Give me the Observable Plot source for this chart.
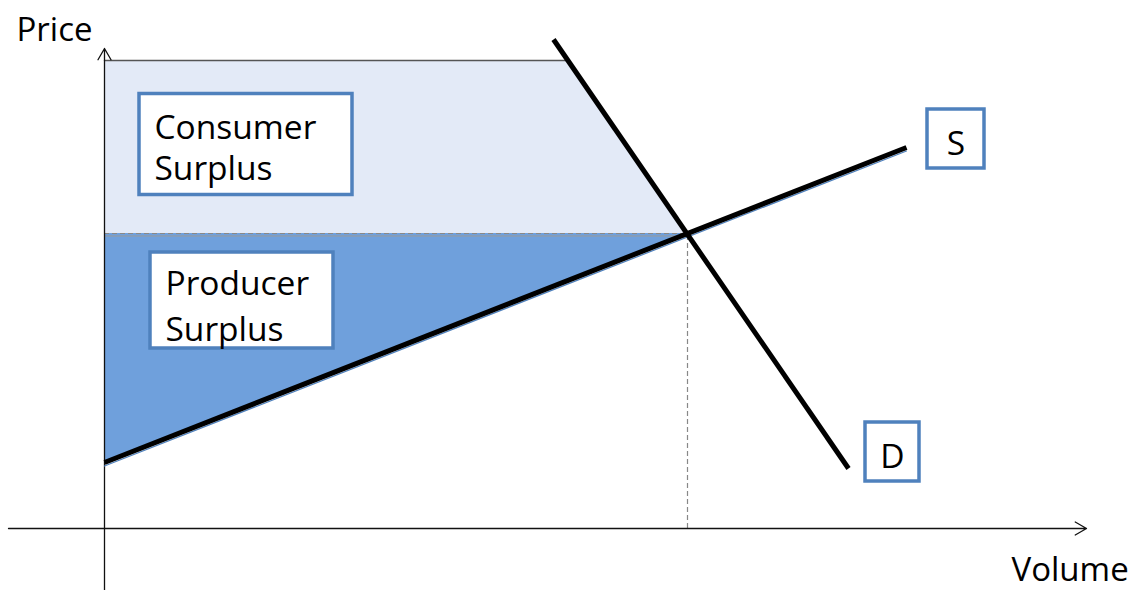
<!DOCTYPE html>
<html>
<head>
<meta charset="utf-8">
<script src="https://cdn.jsdelivr.net/npm/d3@7"></script>
<script src="https://cdn.jsdelivr.net/npm/@observablehq/plot@0.6"></script>
<style>
  html, body { margin: 0; padding: 0; background: #fff; }
  #chart svg { display: block; }
</style>
</head>
<body>
<div id="chart"></div>
<script>
// ---- Data (chart units: volume, price) ----
const supply = [
  {volume: 0, price: 6.6},
  {volume: 80.2, price: 38.1}
];
const demand = [
  {volume: 44.9, price: 48.9},
  {volume: 74.4, price: 6.0}
];
const equilibrium = {volume: 58.3, price: 29.5};
const maxPrice = 46.8;         // top of consumer surplus
const demandAtMaxPrice = 46.3; // volume where demand meets max price

const consumerSurplus = [
  {volume: 0, low: 29.5, high: 46.8},
  {volume: 46.3, low: 29.5, high: 46.8},
  {volume: 58.3, low: 29.5, high: 29.5}
];
const producerSurplus = [
  {volume: 0, low: 6.6, high: 29.5},
  {volume: 58.3, low: 29.5, high: 29.5}
];

const boxes = [
  {name: "Consumer", x1: 3.5, x2: 24.8, y1: 33.35, y2: 43.45},
  {name: "Producer", x1: 4.6, x2: 22.9, y1: 18.0, y2: 27.6},
  {name: "S", x1: 82.3, x2: 88.0, y1: 36.0, y2: 41.9},
  {name: "D", x1: 76.1, x2: 81.5, y1: 4.7, y2: 10.6}
];
const boxText = [
  {text: "Consumer", x: 5.0, y: 39.0},
  {text: "Surplus", x: 5.0, y: 34.85},
  {text: "Producer", x: 6.1, y: 23.35},
  {text: "Surplus", x: 6.1, y: 18.75}
];
const curveLabels = [
  {text: "S", x: 85.15, y: 37.4},
  {text: "D", x: 78.8, y: 6.1}
];
const axisLabels = [
  {text: "Price", x: -8.8, y: 48.8},
  {text: "Volume", x: 90.7, y: -5.2}
];
const axes = [
  {x1: 0, y1: -6.2, x2: 0, y2: 48.0},
  {x1: -9.6, y1: 0, x2: 98.2, y2: 0}
];

const FONT = "Open Sans";

const chart = Plot.plot({
  width: 1137,
  height: 590,
  margin: 0,
  x: {domain: [-10.4, 103.3], axis: null},
  y: {domain: [-6.2, 52.8], axis: null},
  style: {fontFamily: FONT, background: "white"},
  marks: [
    Plot.areaY(consumerSurplus, {x: "volume", y1: "low", y2: "high", fill: "#e3eaf7", curve: "linear"}),
    Plot.areaY(producerSurplus, {x: "volume", y1: "low", y2: "high", fill: "#6fa0dc", curve: "linear"}),
    Plot.line([{volume: 0, price: maxPrice}, {volume: demandAtMaxPrice, price: maxPrice}],
      {x: "volume", y: "price", stroke: "#555", strokeWidth: 1.5}),
    Plot.line([{volume: 0, price: equilibrium.price - 0.25}, {volume: equilibrium.volume, price: equilibrium.price - 0.25}],
      {x: "volume", y: "price", stroke: "#999", strokeWidth: 1}),
    Plot.ruleY([equilibrium], {y: "price", x1: 0, x2: "volume", stroke: "#888", strokeDasharray: "5,3", strokeWidth: 1.2}),
    Plot.ruleX([equilibrium], {x: "volume", y1: 0, y2: "price", stroke: "#888", strokeDasharray: "5,3", strokeWidth: 1.2}),
    Plot.arrow(axes, {x1: "x1", y1: "y1", x2: "x2", y2: "y2", stroke: "#111", strokeWidth: 1.3, headLength: 15, headAngle: 60}),
    Plot.line(supply.map(d => ({volume: d.volume, price: d.price - 0.35})),
      {x: "volume", y: "price", stroke: "#4f81bd", strokeWidth: 1.2}),
    Plot.line(supply, {x: "volume", y: "price", stroke: "black", strokeWidth: 5, strokeLinecap: "butt"}),
    Plot.line(demand, {x: "volume", y: "price", stroke: "black", strokeWidth: 5, strokeLinecap: "butt"}),
    Plot.rect(boxes, {x1: "x1", x2: "x2", y1: "y1", y2: "y2", fill: "white", stroke: "#4f81bd", strokeWidth: 3.5}),
    Plot.text(boxText, {x: "x", y: "y", text: "text", textAnchor: "start", lineAnchor: "bottom", fontSize: 33.5, fill: "black", fontFamily: FONT}),
    Plot.text(curveLabels, {x: "x", y: "y", text: "text", textAnchor: "middle", lineAnchor: "bottom", fontSize: 33.5, fill: "black", fontFamily: FONT}),
    Plot.text(axisLabels, {x: "x", y: "y", text: "text", textAnchor: "start", lineAnchor: "bottom", fontSize: 33, fill: "black", fontFamily: FONT})
  ]
});
document.getElementById("chart").appendChild(chart);
</script>
</body>
</html>
